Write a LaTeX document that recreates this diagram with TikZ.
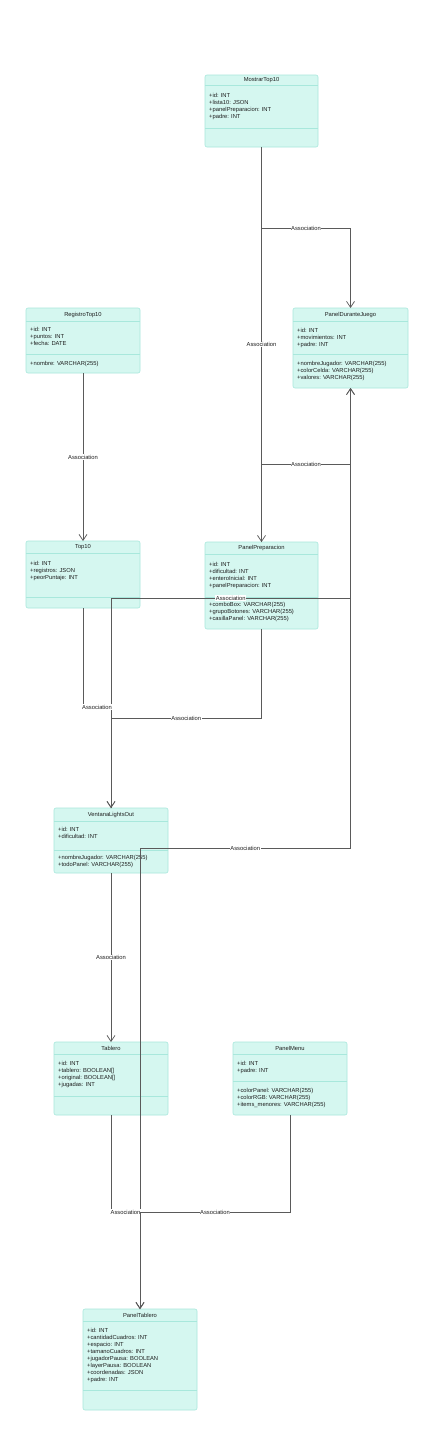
\documentclass[tikz,border=0pt]{standalone}
\usepackage{fontspec}
\setmainfont{Liberation Sans}
\usetikzlibrary{arrows.meta}
\definecolor{boxfill}{HTML}{D5F7F0}
\definecolor{boxline}{HTML}{A8E8DC}
\definecolor{conn}{HTML}{5A5A5A}
\definecolor{txt}{HTML}{1E1E1E}
\tikzset{
  clsbox/.style={draw=boxline, fill=boxfill, rounded corners=2pt, line width=0.6pt, inner sep=0pt, outer sep=0pt},
  sepline/.style={draw=boxline, line width=0.6pt},
  cltitle/.style={font=\fontsize{5.8}{7}\selectfont, text=txt, inner sep=0pt},
  attrtxt/.style={font=\fontsize{5.8}{7}\selectfont, text=txt, align=left, inner sep=0pt, anchor=north west},
  assoc/.style={draw=conn, line width=0.7pt, -{Straight Barb[length=6pt,width=8pt]}},
  plain/.style={draw=conn, line width=0.7pt},
  lbl/.style={font=\fontsize{5.8}{7}\selectfont, text=txt, fill=white, inner sep=0.6pt}
}
\newcommand\umlclass[8]{%
  \node[clsbox, minimum width={#4-#2}, minimum height={#5-#3}] (#1) at ({(#2+#4)/2},{(#3+#5)/2}) {};
  \draw[sepline] (#2,#6) -- (#4,#6) (#2,#7) -- (#4,#7);
  \node[cltitle] (#1-t) at ({(#2+#4)/2},{(#3+#6)/2}) {#8};
}
\begin{document}
\begin{tikzpicture}[x=1pt,y=-1pt]
\useasboundingbox[fill=white] (0,0) rectangle (430,1445);

% classes
\umlclass{mt}{205}{75}{318}{147}{85}{128}{MostrarTop10}
\node[attrtxt] (mt-a) at (209,93) {+id: INT\\+lista10: JSON\\+panelPreparacion: INT\\+padre: INT};

\umlclass{pdj}{293}{308}{408}{388}{321}{354}{PanelDuranteJuego}
\node[attrtxt] (pdj-a) at (297,328) {+id: INT\\+movimientos: INT\\+padre: INT};
\node[attrtxt] (pdj-m) at (297,361) {+nombreJugador: VARCHAR(255)\\+colorCelda: VARCHAR(255)\\+valores: VARCHAR(255)};

\umlclass{rt}{26}{308}{140}{373}{321}{354}{RegistroTop10}
\node[attrtxt] (rt-a) at (30,327) {+id: INT\\+puntos: INT\\+fecha: DATE};
\node[attrtxt] (rt-m) at (30,361) {+nombre: VARCHAR(255)};

\umlclass{t10}{26}{541}{140}{608}{553}{597}{Top10}
\node[attrtxt] (t10-a) at (30,561) {+id: INT\\+registros: JSON\\+peorPuntaje: INT};

\umlclass{pp}{205}{542}{318}{629}{554}{597}{PanelPreparacion}
\node[attrtxt] (pp-a) at (209,562) {+id: INT\\+dificultad: INT\\+enteroInicial: INT\\+panelPreparacion: INT};
\node[attrtxt] (pp-m) at (209,602) {+comboBox: VARCHAR(255)\\+grupoBotones: VARCHAR(255)\\+casillaPanel: VARCHAR(255)};

\umlclass{vlo}{54}{808}{168}{873}{821}{850}{VentanaLightsOut}
\node[attrtxt] (vlo-a) at (58,827) {+id: INT\\+dificultad: INT};
\node[attrtxt] (vlo-m) at (58,855) {+nombreJugador: VARCHAR(255)\\+todoPanel: VARCHAR(255)};

\umlclass{tab}{54}{1042}{168}{1115}{1054}{1096}{Tablero}
\node[attrtxt] (tab-a) at (58,1061) {+id: INT\\+tablero: BOOLEAN[]\\+original: BOOLEAN[]\\+jugadas: INT};

\umlclass{pm}{233}{1042}{347}{1115}{1054}{1081}{PanelMenu}
\node[attrtxt] (pm-a) at (237,1061) {+id: INT\\+padre: INT};
\node[attrtxt] (pm-m) at (237,1088) {+colorPanel: VARCHAR(255)\\+colorRGB: VARCHAR(255)\\+items\_menores: VARCHAR(255)};

\umlclass{ptab}{83}{1309}{197}{1410}{1321}{1390}{PanelTablero}
\node[attrtxt] (ptab-a) at (87,1328) {+id: INT\\+cantidadCuadros: INT\\+espacio: INT\\+tamanoCuadros: INT\\+jugadorPausa: BOOLEAN\\+layerPausa: BOOLEAN\\+coordenadas: JSON\\+padre: INT};

% levels
\coordinate (y228) at (0,228);
\coordinate (y464) at (0,464);
\coordinate (y598) at (0,598);
\coordinate (y707) at (0,707);
\coordinate (y718) at (0,718);
\coordinate (y848) at (0,848);
\coordinate (y1212) at (0,1212);

% connectors
\draw[assoc] (mt.south) -- (mt.south |- y228) -| node[lbl,pos=0.25] (l1) {Association} (pdj.north);
\draw[assoc] (mt.south) -- node[lbl] (l2) {Association} (pp.north);
\draw[assoc] (rt.south) -- node[lbl] (l3) {Association} (t10.north);
\draw[assoc] (pp.north) -- (pp.north |- y464) -| node[lbl,pos=0.25] (l4) {Association} (pdj.south);
\draw[assoc] (vlo.north) -- (vlo.north |- y598) -| node[lbl,pos=0.25] (l7) {Association} (pdj.south);
\draw[assoc] (t10.south) -- (t10.south |- y707) -| node[lbl,pos=0.25] (l5) {Association} (vlo.north);
\draw[assoc] (pp.south) -- (pp.south |- y718) -| node[lbl,pos=0.25] (l6) {Association} (vlo.north);
\draw[assoc] (pdj.south) -- (pdj.south |- y848) -| node[lbl,pos=0.25] (l8) {Association} (ptab.north);
\draw[assoc] (vlo.south) -- node[lbl] (l9) {Association} (tab.north);
\draw[assoc] (tab.south) -- (tab.south |- y1212) -| node[lbl,pos=0.25] (l10) {Association} (ptab.north);
\draw[assoc] (pm.south) -- (pm.south |- y1212) -| node[lbl,pos=0.25] (l11) {Association} (ptab.north);
\end{tikzpicture}
\end{document}
